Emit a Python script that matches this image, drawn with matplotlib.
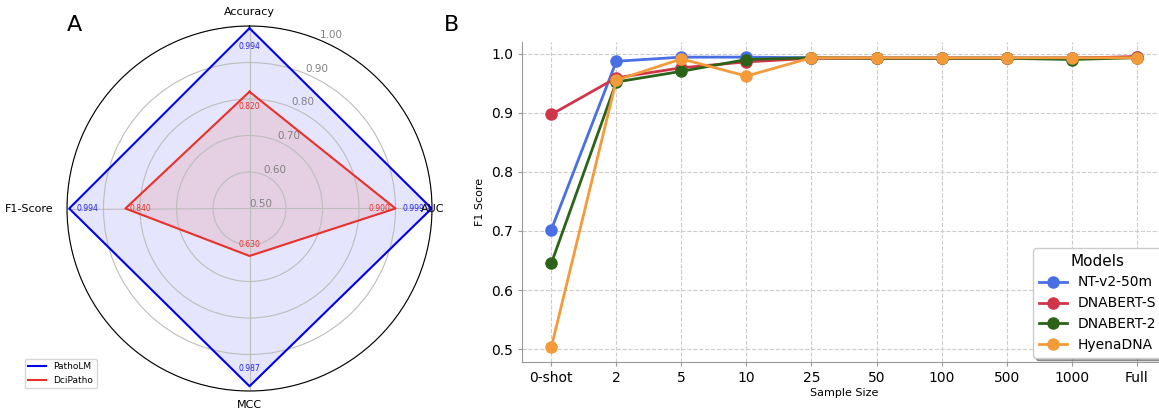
import numpy as np
import matplotlib
matplotlib.use("Agg")
import matplotlib.pyplot as plt

# ---- Data ----
radar_metrics = ["Accuracy", "AUC", "MCC", "F1-Score"]
patholm_vals = [0.994, 0.999, 0.987, 0.994]
dcipatho_vals = [0.820, 0.900, 0.630, 0.840]

sample_sizes = ["0-shot", "2", "5", "10", "25", "50", "100", "500", "1000", "Full"]
nt_v2 = [0.702, 0.987, 0.994, 0.994, 0.993, 0.993, 0.993, 0.993, 0.993, 0.994]
dnabert_s = [0.897, 0.959, 0.976, 0.986, 0.992, 0.992, 0.992, 0.992, 0.992, 0.995]
dnabert_2 = [0.645, 0.952, 0.970, 0.990, 0.993, 0.992, 0.992, 0.992, 0.990, 0.993]
hyenadna = [0.503, 0.955, 0.991, 0.962, 0.993, 0.993, 0.993, 0.993, 0.993, 0.993]

plt.rcParams['font.family'] = ['DejaVu Sans']

W, H = 1159, 411
fig = plt.figure(figsize=(W / 100, H / 100), dpi=100)

# ---- Radar panel ----
axr = fig.add_axes([67 / W, (H - 391) / H, 365 / W, 365 / H], projection='polar')
axr.set_theta_offset(np.pi / 2)
axr.set_theta_direction(-1)
n = len(radar_metrics)
angles = np.linspace(0, 2 * np.pi, n, endpoint=False)
ang_c = np.concatenate([angles, angles[:1]])
p_c = np.concatenate([patholm_vals, patholm_vals[:1]])
d_c = np.concatenate([dcipatho_vals, dcipatho_vals[:1]])

axr.set_ylim(0.5, 1.0)
axr.set_yticks([0.5, 0.6, 0.7, 0.8, 0.9, 1.0])
axr.set_yticklabels(["0.50", "0.60", "0.70", "0.80", "0.90", "1.00"],
                    color='gray', fontsize=7.5)
axr.set_rlabel_position(22.5)
axr.set_xticks(angles)
axr.set_xticklabels([])
axr.grid(True, color='#bdbdbd', linewidth=0.8)
axr.spines['polar'].set_color('black')
axr.spines['polar'].set_linewidth(0.8)

l1, = axr.plot(ang_c, p_c, color='#0000ee', linewidth=1.5, label='PathoLM')
axr.fill(ang_c, p_c, color='#0000ee', alpha=0.1)
l2, = axr.plot(ang_c, d_c, color='#e8322b', linewidth=1.5, label='DciPatho')
axr.fill(ang_c, d_c, color='#e8322b', alpha=0.12)

for a, v in zip(angles, patholm_vals):
    axr.text(a, v * 0.95, f"{v:.3f}", color='#2222ee', fontsize=5.5,
             ha='center', va='center')
for a, v in zip(angles, dcipatho_vals):
    axr.text(a, v * 0.95, f"{v:.3f}", color='#e8322b', fontsize=5.5,
             ha='center', va='center')

label_r = [1.037, 1.003, 1.037, 1.103]
for a, lab, r in zip(angles, radar_metrics, label_r):
    axr.text(a, r, lab, fontsize=8, ha='center', va='center')

fig.legend(handles=[l1, l2], loc='lower left',
           bbox_to_anchor=(20 / W, (H - 393) / H), fontsize=6.5,
           frameon=True, handlelength=2.0)

# ---- Line panel ----
axl = fig.add_axes([522 / W, (H - 362) / H, 644 / W, 320 / H])
x = np.arange(len(sample_sizes))
series = [("NT-v2-50m", nt_v2, '#4a6fe3'),
          ("DNABERT-S", dnabert_s, '#d0364a'),
          ("DNABERT-2", dnabert_2, '#2b6419'),
          ("HyenaDNA", hyenadna, '#f39a3b')]
for name, vals, col in series:
    axl.plot(x, vals, marker='o', markersize=8, linewidth=2, color=col, label=name)

axl.set_xticks(x)
axl.set_xticklabels(sample_sizes, fontsize=10)
axl.set_yticks([0.5, 0.6, 0.7, 0.8, 0.9, 1.0])
axl.set_yticklabels(["0.5", "0.6", "0.7", "0.8", "0.9", "1.0"], fontsize=10)
axl.set_xlabel("Sample Size", fontsize=8, labelpad=2)
axl.set_ylabel("F1 Score", fontsize=8)
axl.grid(True, linestyle='--', color='#cccccc', linewidth=0.8)
axl.spines['top'].set_visible(False)
axl.spines['right'].set_visible(False)
axl.spines['left'].set_color('#999999')
axl.spines['bottom'].set_color('#999999')
axl.tick_params(colors='black', length=3, color='#999999')
leg = axl.legend(title='Models', loc='lower right', fontsize=10,
                 title_fontsize=11, shadow=True, frameon=True,
                 borderaxespad=0.3)

fig.text(67 / W, (H - 25) / H, "A", fontsize=16, ha='left', va='center')
fig.text(444 / W, (H - 25) / H, "B", fontsize=16, ha='left', va='center')

fig.savefig("out.png", dpi=100)
